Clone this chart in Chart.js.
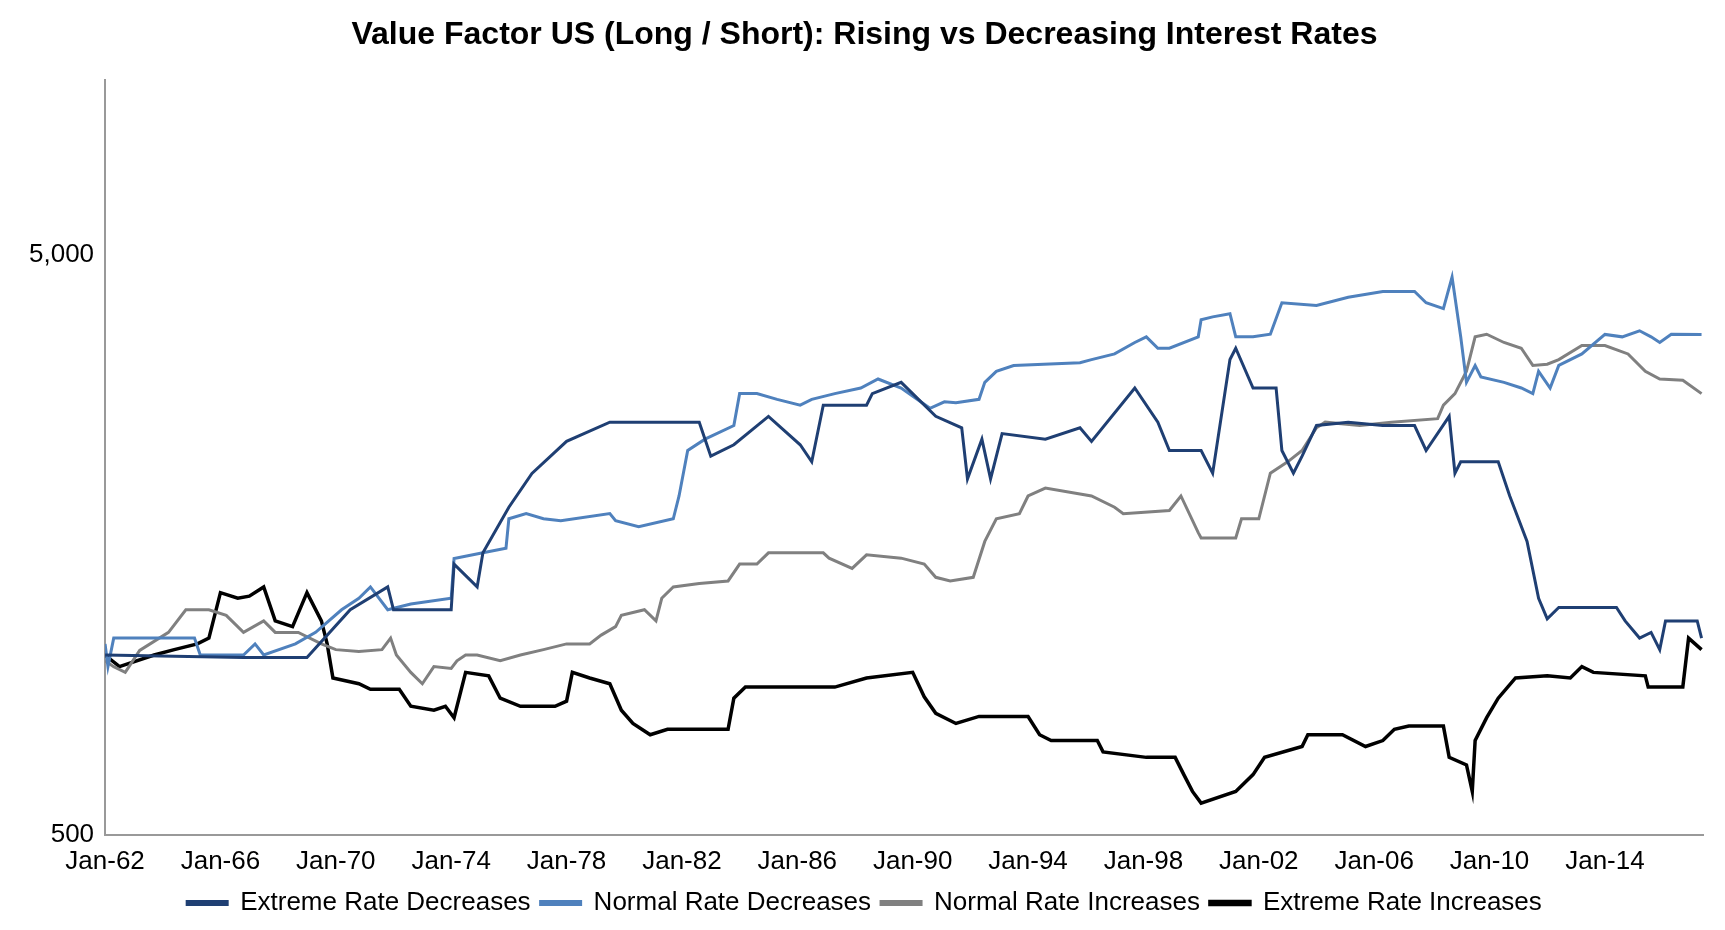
<!DOCTYPE html>
<html>
<head>
  <title>Value Factor US</title>
  <script src="https://cdn.jsdelivr.net/npm/chart.js"></script>
  <style>
    body { margin: 0; background: #fff; }
    #wrap { width: 1725px; height: 930px; }
  </style>
</head>
<body>
<div id="wrap"><canvas id="chart" width="1725" height="930"></canvas></div>
<script>
  // x = decimal year, y = cumulative value (log scale)
  const extremeDecYears = [1962,1966.8,1969,1970.5,1971.8,1972,1974,1974.1,1974.9,1975.1,1976,1976.8,1978,1979.5,1982.6,1982.8,1983,1983.8,1985,1986.1,1986.5,1986.9,1988.4,1988.6,1989.6,1990.8,1991.7,1991.9,1992.4,1992.7,1993.1,1994.6,1995.8,1996.2,1997.7,1998.5,1998.9,2000,2000.4,2001,2001.2,2001.8,2002.6,2002.8,2003.2,2003.5,2004,2005.1,2006.3,2007.4,2007.8,2008.6,2008.8,2009,2010.3,2010.7,2011.3,2011.7,2012,2012.4,2014.4,2014.7,2015.2,2015.6,2015.9,2016.1,2017.2,2017.35];
  const extremeDecVals  = [1021,1011,1011,1222,1338,1222,1222,1465,1338,1532,1836,2100,2385,2574,2574,2406,2249,2353,2634,2353,2199,2754,2754,2883,3015,2634,2517,2055,2406,2055,2460,2406,2517,2385,2948,2574,2300,2300,2102,3300,3452,2948,2948,2300,2102,2249,2540,2574,2540,2540,2300,2634,2102,2199,2199,1920,1603,1279,1179,1233,1233,1169,1092,1117,1043,1169,1169,1092];

  const normalDecYears = [1962,1962.1,1962.3,1965.1,1965.3,1966.8,1967.2,1967.5,1968.6,1969.3,1970.2,1970.8,1971.2,1971.8,1972.6,1974,1974.1,1975.1,1975.9,1976,1976.6,1977.2,1977.8,1979.5,1979.7,1980.5,1981.7,1981.9,1982.2,1982.8,1983.8,1984,1984.6,1985.3,1986.1,1986.5,1987.3,1988.2,1988.8,1989.6,1990.6,1991.1,1991.5,1992.3,1992.5,1992.9,1993.5,1995.8,1996.2,1997,1997.7,1998.1,1998.5,1998.9,1999.9,2000,2000.4,2001,2001.2,2001.8,2002.4,2002.8,2004,2005.1,2006.3,2007.4,2007.8,2008.4,2008.7,2009,2009.2,2009.5,2009.7,2010.5,2011.1,2011.5,2011.7,2012.1,2012.4,2013.2,2014,2014.6,2015.2,2015.6,2015.9,2016.3,2017.35];
  const normalDecVals  = [1067,975,1092,1092,1021,1021,1067,1021,1067,1117,1222,1279,1338,1222,1250,1279,1498,1532,1560,1754,1790,1754,1740,1790,1740,1700,1754,1920,2300,2406,2540,2883,2883,2818,2754,2818,2883,2948,3055,2948,2720,2790,2780,2818,3015,3150,3224,3260,3300,3375,3532,3612,3452,3452,3612,3866,3910,3960,3612,3612,3650,4136,4090,4228,4325,4325,4136,4040,4580,3612,3015,3224,3080,3015,2948,2883,3150,2948,3224,3375,3647,3612,3700,3612,3532,3650,3647];

  const normalIncYears = [1962,1962.3,1962.7,1963.2,1964.2,1964.8,1965.6,1966.2,1966.8,1967.5,1967.9,1968.7,1969.5,1970,1970.8,1971.6,1971.9,1972.1,1972.6,1973,1973.4,1974,1974.2,1974.5,1974.9,1975.7,1976.4,1977.2,1978,1978.8,1979.2,1979.7,1979.9,1980.7,1981.1,1981.3,1981.7,1982.6,1983.6,1984,1984.6,1985,1986.9,1987.1,1987.9,1988.4,1989.6,1990.4,1990.8,1991.3,1992.1,1992.5,1992.9,1993.7,1994,1994.6,1996.2,1997,1997.3,1998.9,1999.3,1999.9,2000,2001.2,2001.4,2002,2002.4,2003,2003.5,2004,2004.3,2005.5,2006.6,2008.2,2008.4,2008.8,2009.2,2009.5,2009.9,2010.5,2011.1,2011.5,2012,2012.4,2013.2,2014,2014.8,2015.4,2015.9,2016.7,2017.35];
  const normalIncVals  = [998,975,953,1040,1117,1222,1222,1195,1117,1169,1117,1117,1067,1043,1035,1043,1092,1021,953,911,975,968,998,1021,1021,998,1021,1043,1067,1067,1105,1143,1195,1222,1169,1279,1338,1356,1370,1465,1465,1532,1532,1500,1440,1520,1500,1465,1390,1370,1390,1603,1754,1790,1920,1981,1920,1836,1790,1812,1920,1660,1625,1625,1754,1754,2102,2199,2300,2517,2574,2540,2574,2610,2754,2883,3150,3612,3650,3532,3452,3224,3240,3300,3490,3490,3375,3150,3055,3040,2883];

  const extremeIncYears = [1962,1962.5,1963.7,1964.4,1965.2,1965.6,1966,1966.6,1967,1967.5,1967.9,1968.5,1969,1969.5,1969.7,1969.9,1970.8,1971.2,1972.2,1972.6,1973.4,1973.8,1974.1,1974.5,1975.3,1975.7,1976.4,1977.6,1978,1978.2,1978.8,1979.5,1979.9,1980.3,1980.9,1981.5,1982.2,1983.6,1983.8,1984.2,1987.3,1988.4,1990,1990.4,1990.8,1991.5,1992.3,1994,1994.4,1994.8,1996.4,1996.6,1998.1,1999.1,1999.4,1999.7,2000,2001.2,2001.8,2002.2,2003.5,2003.7,2004.9,2005.7,2006.3,2006.7,2007.2,2008.4,2008.6,2009.2,2009.4,2009.5,2009.9,2010.3,2010.9,2012,2012.8,2013.2,2013.6,2015.4,2015.5,2016.7,2016.9,2017.35];
  const extremeIncVals  = [1021,975,1021,1043,1067,1092,1308,1279,1290,1338,1169,1143,1308,1169,1067,932,911,891,891,833,820,833,796,953,940,860,833,833,850,953,932,911,820,778,744,760,760,760,860,899,899,932,953,865,810,778,800,800,744,727,727,695,680,680,635,594,567,594,635,680,710,744,744,710,727,760,770,770,680,660,594,727,796,860,932,940,932,975,953,940,899,899,1092,1043];

  const tickYears = [1962,1966,1970,1974,1978,1982,1986,1990,1994,1998,2002,2006,2010,2014];

  function pts(xs, ys) { return xs.map((x, i) => ({ x: x, y: ys[i] })); }

  const ds = (label, xs, ys, color, w) => ({
    label: label, data: pts(xs, ys), borderColor: color, backgroundColor: color,
    borderWidth: w, pointRadius: 0, tension: 0, fill: false
  });

  new Chart(document.getElementById('chart').getContext('2d'), {
    type: 'line',
    data: {
      datasets: [
        ds('Extreme Rate Decreases', extremeDecYears, extremeDecVals, '#1F3F73', 3),
        ds('Normal Rate Decreases', normalDecYears, normalDecVals, '#4F81BD', 3),
        ds('Normal Rate Increases', normalIncYears, normalIncVals, '#808080', 3),
        ds('Extreme Rate Increases', extremeIncYears, extremeIncVals, '#000000', 3.5)
      ]
    },
    options: {
      responsive: false,
      animation: false,
      layout: { padding: { left: 26, right: 22, top: 0, bottom: 4 } },
      plugins: {
        title: {
          display: true,
          text: 'Value Factor US (Long / Short): Rising vs Decreasing Interest Rates',
          font: { family: 'Liberation Sans', size: 32, weight: 'bold' },
          color: '#000',
          padding: { top: 16, bottom: 26 }
        },
        legend: {
          position: 'bottom',
          labels: {
            font: { family: 'Liberation Sans', size: 26 },
            color: '#000', boxWidth: 40, boxHeight: 3, padding: 10
          }
        },
        tooltip: { enabled: false }
      },
      scales: {
        x: {
          type: 'linear', min: 1962, max: 2017.4,
          afterBuildTicks: axis => { axis.ticks = tickYears.map(v => ({ value: v })); },
          ticks: {
            font: { family: 'Liberation Sans', size: 26 }, color: '#000', maxRotation: 0,
            callback: v => 'Jan-' + String(Math.round(v)).slice(2)
          },
          grid: { display: false, drawTicks: true, tickLength: 8 },
          border: { color: '#999', width: 2 }
        },
        y: {
          type: 'logarithmic', min: 500, max: 10000,
          afterBuildTicks: axis => { axis.ticks = [{ value: 500 }, { value: 5000 }]; },
          ticks: {
            font: { family: 'Liberation Sans', size: 26 }, color: '#000',
            callback: v => v.toLocaleString('en-US')
          },
          grid: { display: false, tickLength: 8 },
          border: { color: '#999', width: 2 }
        }
      }
    }
  });
</script>
</body>
</html>
